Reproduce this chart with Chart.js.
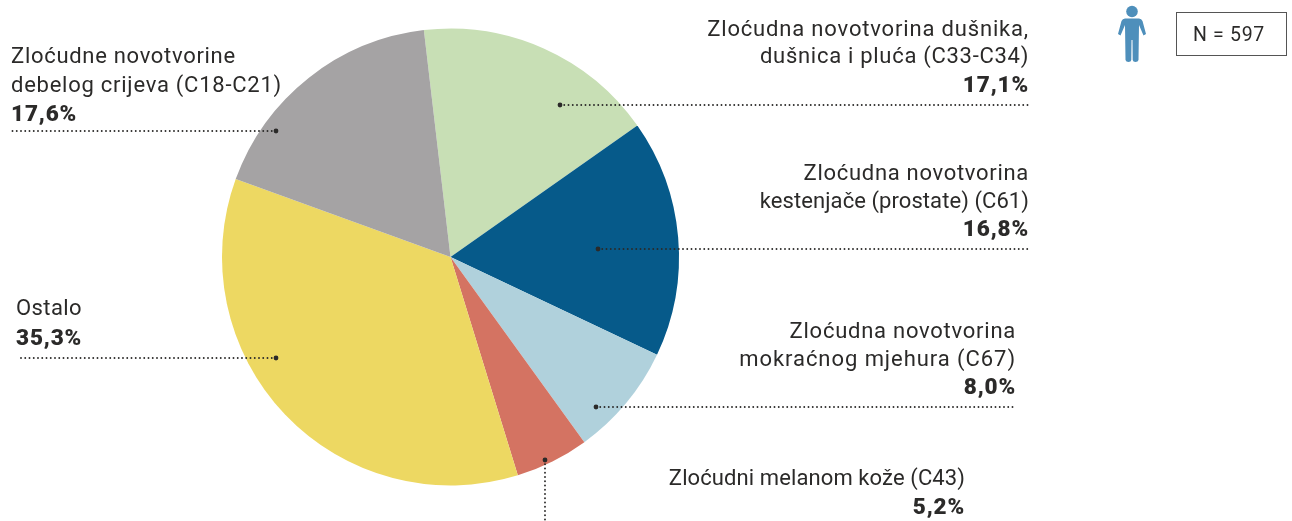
<!DOCTYPE html>
<html><head><meta charset="utf-8">
<style>html,body{margin:0;padding:0;background:#fff}#w{position:relative;width:1292px;height:521px}</style>
<script src="https://cdn.jsdelivr.net/npm/chart.js@4"></script>
</head><body><div id="w"><canvas id="c" width="1292" height="521"></canvas></div>
<script>
const categories = ["Zloćudna novotvorina dušnika, dušnica i pluća (C33-C34)","Zloćudna novotvorina kestenjače (prostate) (C61)","Zloćudna novotvorina mokraćnog mjehura (C67)","Zloćudni melanom kože (C43)","Ostalo","Zloćudne novotvorine debelog crijeva (C18-C21)"];
const values = [17.1,16.8,8.0,5.2,35.3,17.6];
const colors = ["#C8DFB5","#065A8A","#B0D1DC","#D47362","#EDD862","#A5A3A4"];
const sampleLabel = "N = 597";
const ink = "#2b2a29";
const FONT = "Roboto, sans-serif";

const notes = [
 {lines:["Zloćudna novotvorina dušnika,","dušnica i pluća (C33-C34)"],sp:[0.83,0.71],pct:"17,1%",align:"right",x:1029,ys:[36,63,92],lead:[560,105,1028,105]},
 {lines:["Zloćudna novotvorina","kestenjače (prostate) (C61)"],sp:[0.7,0.07],pct:"16,8%",align:"right",x:1029,ys:[180,208,236],lead:[598,249,1030,249]},
 {lines:["Zloćudna novotvorina","mokraćnog mjehura (C67)"],sp:[0.75,0.94],pct:"8,0%",align:"right",x:1016,ys:[338,366,394],lead:[596,407,1015,407]},
 {lines:["Zloćudni melanom kože (C43)"],sp:[0.1],pct:"5,2%",align:"right",x:965,ys:[485,514],lead:[545,460,545,521]},
 {lines:["Ostalo"],sp:[0.4],pct:"35,3%",align:"left",x:16,ys:[315,345],lead:[276,358,17,358]},
 {lines:["Zloćudne novotvorine","debelog crijeva (C18-C21)"],sp:[0.7,0.75],pct:"17,6%",align:"left",x:11,ys:[63,92,121],lead:[276,131,12,131]}
];

const overlay = {
 id:"overlay",
 afterDraw(chart){
  const g = chart.ctx;
  g.save();
  g.textBaseline = "alphabetic";
  g.fillStyle = ink;
  for(const n of notes){
    g.textAlign = n.align;
    g.font = "400 22px "+FONT;
    n.lines.forEach((t,i)=>{g.letterSpacing = n.sp[i]+"px";g.fillText(t,n.x,n.ys[i]);});
    g.font = "900 22.5px "+FONT;
    g.letterSpacing = "0.85px";
    g.fillText(n.pct,n.x,n.ys[n.lines.length]);
    g.letterSpacing = "0px";
    const [x0,y0,x1,y1] = n.lead;
    g.strokeStyle = ink;
    g.lineWidth = 1.9;
    g.lineCap = "round";
    g.setLineDash([0,4.25]);
    g.beginPath();g.moveTo(x0,y0);g.lineTo(x1,y1);g.stroke();
    g.setLineDash([]);
    g.beginPath();g.arc(x0,y0,2.4,0,Math.PI*2);g.fill();
  }
  // N box
  g.strokeStyle = "#555";
  g.lineWidth = 1;
  g.strokeRect(1176.5,12.5,110,43);
  g.textAlign = "center";
  g.font = "400 19.5px "+FONT;
  g.letterSpacing = "0.7px";
  g.fillText(sampleLabel,1229,41);
  g.letterSpacing = "0px";
  // person icon
  g.fillStyle = "#4E8FBB";
  g.strokeStyle = "#4E8FBB";
  g.lineCap = "round";
  g.beginPath();g.arc(1132,11.5,5.8,0,Math.PI*2);g.fill();
  g.beginPath();
  g.moveTo(1125,18.5);g.lineTo(1139,18.5);g.quadraticCurveTo(1141.5,18.5,1142.5,21);
  g.lineTo(1146,34);g.lineTo(1143.5,35.5);g.lineTo(1139,25);
  g.lineTo(1138.5,60);g.quadraticCurveTo(1138,62,1135.5,62);g.quadraticCurveTo(1133,62,1132.7,60);
  g.lineTo(1132.5,40);g.lineTo(1131.5,40);g.lineTo(1131.3,60);
  g.quadraticCurveTo(1131,62,1128.5,62);g.quadraticCurveTo(1126,62,1125.5,60);
  g.lineTo(1125,25);g.lineTo(1120.5,35.5);g.lineTo(1118,34);
  g.lineTo(1121.5,21);g.quadraticCurveTo(1122.5,18.5,1125,18.5);
  g.closePath();g.fill();
  g.restore();
 }
};

new Chart(document.getElementById("c"),{
 type:"pie",
 data:{labels:categories,datasets:[{data:values,backgroundColor:colors,borderWidth:0}]},
 options:{
  responsive:false,animation:false,
  rotation:-6.7,
  radius:228.5,
  layout:{padding:{left:0,top:0,right:391,bottom:7}},
  plugins:{legend:{display:false},tooltip:{enabled:false}}
 },
 plugins:[overlay]
});
</script></body></html>
